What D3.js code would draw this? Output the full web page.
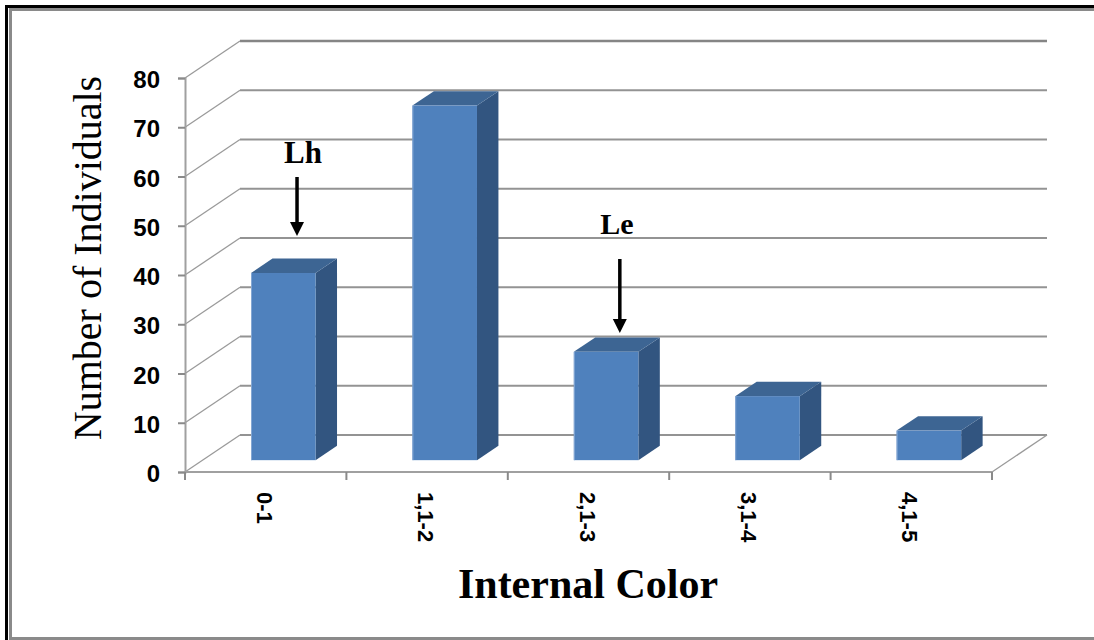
<!DOCTYPE html>
<html>
<head>
<meta charset="utf-8">
<script src="https://cdn.jsdelivr.net/npm/d3@7"></script>
<style>
  html, body { margin: 0; padding: 0; background: #fff; }
  svg { display: block; }
</style>
</head>
<body>
<svg id="chart" width="1094" height="640"></svg>
<script>
// Counts of individuals per internal-colour class
const categories = ["0-1", "1,1-2", "2,1-3", "3,1-4", "4,1-5"];
const counts = [38, 72, 22, 13, 6];
const yTicks = [0, 10, 20, 30, 40, 50, 60, 70, 80];
const annotationLabels = ["Lh", "Le"];
const annotationCategories = ["0-1", "2,1-3"];

const svg = d3.select("#chart");
const W = 1094, H = 640;

// Frame around the figure
svg.append("rect").attr("x", 6.5).attr("y", 6.5).attr("width", W + 20).attr("height", H + 20)
  .attr("fill", "none").attr("stroke", "#000").attr("stroke-width", 3);
svg.append("rect").attr("x", 10.5).attr("y", 9.5).attr("width", W + 20).attr("height", 629)
  .attr("fill", "none").attr("stroke", "#8a8a8a").attr("stroke-width", 3);

// Front plane scales
const x = d3.scaleBand().domain(categories).range([185, 992]).padding(0);
const y = d3.scaleLinear().domain([0, 80]).range([472, 78]);

// Depth of the 3D box (back wall offset)
const DX = 55, DY = -37;
// Bars sit partway into the depth
const barFront = 0.32, barDepth = 0.39;
const barW = x.bandwidth() * 0.40;

const g = svg.append("g");

// Back wall gridlines
g.selectAll("line.grid").data(yTicks).join("line")
  .attr("class", "grid")
  .attr("x1", x.range()[0] + DX).attr("x2", x.range()[1] + DX)
  .attr("y1", d => y(d) + DY).attr("y2", d => y(d) + DY)
  .attr("stroke", d => d === 80 ? "#858585" : "#939393")
  .attr("stroke-width", d => d === 80 ? 2.6 : 2);

// Side wall diagonals
g.selectAll("line.side").data(yTicks).join("line")
  .attr("class", "side")
  .attr("x1", x.range()[0]).attr("x2", x.range()[0] + DX)
  .attr("y1", d => y(d)).attr("y2", d => y(d) + DY)
  .attr("stroke", "#9a9a9a").attr("stroke-width", 1.3);

// Floor right edge
g.append("line")
  .attr("x1", x.range()[1]).attr("y1", y(0))
  .attr("x2", x.range()[1] + DX).attr("y2", y(0) + DY)
  .attr("stroke", "#9a9a9a").attr("stroke-width", 1.3);

// Y axis (front left edge) with ticks
const yAxis = d3.axisLeft(y).tickValues(yTicks).tickSize(7).tickPadding(18);
const yg = svg.append("g").attr("transform", `translate(${x.range()[0]},0)`).call(yAxis);
yg.select(".domain").attr("stroke", "#a0a0a0").attr("stroke-width", 2);
yg.selectAll(".tick line").attr("stroke", "#8a8a8a").attr("stroke-width", 2);
yg.selectAll(".tick text")
  .attr("font-family", "Arial, 'Liberation Sans', sans-serif")
  .attr("font-weight", "bold").attr("font-size", 24).attr("fill", "#000")
  .attr("dy", "0.40em");

// X axis (front floor edge) with ticks between categories
const boundaries = categories.map(c => x(c)).concat([x.range()[1]]);
const xg = svg.append("g");
xg.append("line")
  .attr("x1", x.range()[0]).attr("x2", x.range()[1])
  .attr("y1", y(0)).attr("y2", y(0))
  .attr("stroke", "#a0a0a0").attr("stroke-width", 2);
xg.selectAll("line.xt").data(boundaries).join("line")
  .attr("class", "xt")
  .attr("x1", d => d).attr("x2", d => d)
  .attr("y1", y(0)).attr("y2", y(0) + 8)
  .attr("stroke", "#8a8a8a").attr("stroke-width", 2);

// Category labels, rotated
xg.selectAll("text.cat").data(categories).join("text")
  .attr("class", "cat")
  .attr("transform", d => `translate(${x(d) + x.bandwidth() / 2 - 1},492) rotate(90)`)
  .attr("text-anchor", "start").attr("dy", "0.36em")
  .attr("font-family", "Arial, 'Liberation Sans', sans-serif")
  .attr("font-weight", "bold").attr("font-size", 22).attr("fill", "#000")
  .text(d => d);

// 3D bars
const fdx = DX * barFront, fdy = DY * barFront;
const ddx = DX * barDepth, ddy = DY * barDepth;
const bars = svg.append("g").selectAll("g.bar")
  .data(categories.map((c, i) => ({ c, v: counts[i] })))
  .join("g").attr("class", "bar");

bars.each(function (d) {
  const gb = d3.select(this);
  const x0 = x(d.c) + x.bandwidth() / 2 - barW / 2 + fdx;
  const x1 = x0 + barW;
  const yb = y(0) + fdy;
  const yt = y(d.v) + fdy;
  // side face
  gb.append("path")
    .attr("d", `M${x1},${yt} L${x1 + ddx},${yt + ddy} L${x1 + ddx},${yb + ddy} L${x1},${yb} Z`)
    .attr("fill", "#325580");
  // top face
  gb.append("path")
    .attr("d", `M${x0},${yt} L${x0 + ddx},${yt + ddy} L${x1 + ddx},${yt + ddy} L${x1},${yt} Z`)
    .attr("fill", "#3d6593");
  // front face
  gb.append("rect")
    .attr("x", x0).attr("y", yt).attr("width", barW).attr("height", yb - yt)
    .attr("fill", "#4f81bd");
  gb.append("line")
    .attr("x1", x0 + 0.5).attr("x2", x0 + 0.5).attr("y1", yt).attr("y2", yb)
    .attr("stroke", "#86a8d4").attr("stroke-width", 1);
});

// Annotations with downward arrows
const annLayout = [
  { textY: 163, tail: 177, tip: 236, textDx: 6, fs: 31 },
  { textY: 234, tail: 259, tip: 333, textDx: -3, fs: 30 }
];
const ann = svg.append("g");
annotationLabels.forEach((lab, i) => {
  const c = annotationCategories[i];
  const L = annLayout[i];
  const cx = x(c) + x.bandwidth() / 2 + fdx + ddx / 2 + 3;
  ann.append("text")
    .attr("x", cx + L.textDx).attr("y", L.textY)
    .attr("text-anchor", "middle")
    .attr("font-family", "'Times New Roman', 'Liberation Serif', serif")
    .attr("font-weight", "bold").attr("font-size", L.fs).attr("fill", "#000")
    .text(lab);
  ann.append("line")
    .attr("x1", cx).attr("x2", cx)
    .attr("y1", L.tail).attr("y2", L.tip - 12)
    .attr("stroke", "#000").attr("stroke-width", 3.5);
  ann.append("path")
    .attr("d", `M${cx - 7},${L.tip - 14} L${cx + 7},${L.tip - 14} L${cx},${L.tip} Z`)
    .attr("fill", "#000");
});

// Axis titles
svg.append("text")
  .attr("transform", `translate(101,258) rotate(-90)`)
  .attr("text-anchor", "middle")
  .attr("font-family", "'Times New Roman', 'Liberation Serif', serif")
  .attr("font-size", 40).attr("fill", "#000")
  .text("Number of Individuals");

svg.append("text")
  .attr("x", 588).attr("y", 598)
  .attr("text-anchor", "middle")
  .attr("font-family", "'Times New Roman', 'Liberation Serif', serif")
  .attr("font-weight", "bold").attr("font-size", 42).attr("fill", "#000")
  .text("Internal Color");
</script>
</body>
</html>
